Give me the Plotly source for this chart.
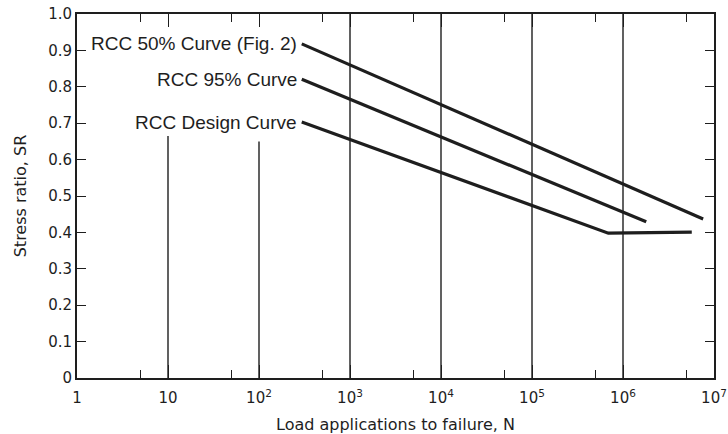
import math
import plotly.graph_objects as go

# ---- data ----
curve50_n = [295, 7.6e6]
curve50_sr = [0.918, 0.437]
curve95_n = [295, 1.8e6]
curve95_sr = [0.821, 0.429]
design_n = [295, 6.9e5, 5.7e6]
design_sr = [0.703, 0.398, 0.401]

curve_labels = ["RCC 50% Curve (Fig. 2)", "RCC 95% Curve", "RCC Design Curve"]

grid_x = [10, 100, 1e3, 1e4, 1e5, 1e6]
grid_top = [0.665, 0.65, 1.0, 1.0, 1.0, 1.0]

x_tickvals = [1, 10, 100, 1e3, 1e4, 1e5, 1e6, 1e7]
x_ticktext = ["1", "10", "10<sup>2</sup>", "10<sup>3</sup>", "10<sup>4</sup>",
              "10<sup>5</sup>", "10<sup>6</sup>", "10<sup>7</sup>"]
x_minor = [5, 50, 500, 5e3, 5e4, 5e5, 5e6]
y_tickvals = [0, 0.1, 0.2, 0.3, 0.4, 0.5, 0.6, 0.7, 0.8, 0.9, 1.0]
y_ticktext = ["0", "0.1", "0.2", "0.3", "0.4", "0.5", "0.6", "0.7", "0.8", "0.9", "1.0"]

INK = "#1e1e1e"
TICKFONT = dict(family="DejaVu Sans", size=15, color=INK)

fig = go.Figure()

# vertical grid lines
for gx, gt in zip(grid_x, grid_top):
    fig.add_trace(go.Scatter(x=[gx, gx], y=[0, gt], mode="lines",
                             line=dict(color=INK, width=1.4),
                             hoverinfo="skip", showlegend=False))

for xs, ys in [(curve50_n, curve50_sr), (curve95_n, curve95_sr), (design_n, design_sr)]:
    fig.add_trace(go.Scatter(x=xs, y=ys, mode="lines",
                             line=dict(color=INK, width=3.2),
                             showlegend=False))

# invisible trace to carry the minor-tick axis
fig.add_trace(go.Scatter(x=[x_minor[0]], y=[0], xaxis="x2", mode="markers",
                         marker=dict(opacity=0), hoverinfo="skip", showlegend=False))

for lab, xs, ys in zip(curve_labels, [curve50_n, curve95_n, design_n],
                       [curve50_sr, curve95_sr, design_sr]):
    fig.add_annotation(x=math.log10(xs[0]), y=ys[0], text=lab, showarrow=False,
                       xanchor="right", yanchor="middle", xshift=-3,
                       font=dict(family="Liberation Sans, Arial, sans-serif",
                                 size=19, color=INK))

fig.update_layout(
    xaxis=dict(type="log", range=[0, 7], automargin=False,
               tickmode="array", tickvals=x_tickvals, ticktext=x_ticktext,
               ticks="inside", ticklen=13, tickwidth=1.4, tickcolor=INK,
               ticklabelstandoff=5,
               showgrid=False, zeroline=False,
               showline=True, linewidth=2, linecolor=INK, mirror="ticks",
               tickfont=TICKFONT,
               title=dict(text="Load applications to failure, N", standoff=13,
                          font=dict(family="DejaVu Sans", size=16, color=INK))),
    xaxis2=dict(type="log", range=[0, 7], overlaying="x", side="bottom",
                anchor="y", automargin=False,
                tickmode="array", tickvals=x_minor, ticktext=[""] * len(x_minor),
                ticks="inside", ticklen=8, tickwidth=1.4, tickcolor=INK,
                showgrid=False, zeroline=False,
                showline=True, linewidth=2, linecolor=INK, mirror="ticks",
                showticklabels=False),
    yaxis=dict(range=[0, 1.0], automargin=False,
               tickmode="array", tickvals=y_tickvals, ticktext=y_ticktext,
               ticks="inside", ticklen=9, tickwidth=1.4, tickcolor=INK,
               showgrid=False, zeroline=False,
               showline=True, linewidth=2, linecolor=INK, mirror="ticks",
               tickfont=TICKFONT,
               title=dict(text="Stress ratio, SR", standoff=18,
                          font=dict(family="DejaVu Sans", size=16, color=INK))),
    width=728, height=434,
    margin=dict(l=77, r=14, t=14, b=56),
    paper_bgcolor="white", plot_bgcolor="white",
    showlegend=False,
)

fig.write_html("out.html")
